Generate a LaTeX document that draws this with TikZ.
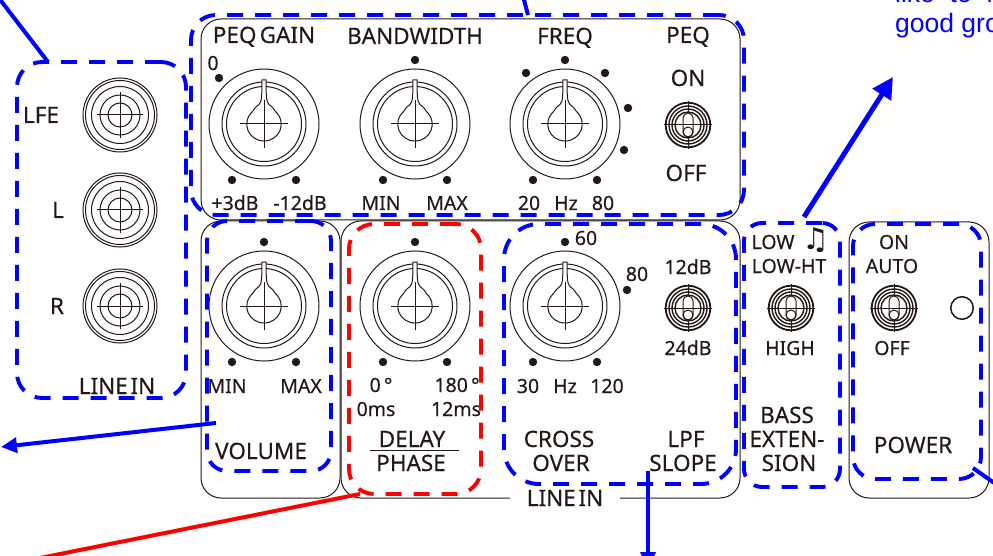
\documentclass[tikz,border=0pt]{standalone}
\usepackage{fontspec}
\setmainfont[FakeBold=0.3]{Noto Sans}
\newfontfamily\notefont{DejaVu Sans}
\newfontfamily\blufont{Liberation Sans}
\usepackage{xcolor}
\definecolor{pnlink}{HTML}{231815}
\definecolor{pnlblue}{RGB}{0,0,255}
\definecolor{pnlred}{RGB}{255,0,0}
\usetikzlibrary{arrows.meta,positioning,calc}

\begin{document}
\begin{tikzpicture}[
  x=1pt, y=-1pt,
  kline/.style={draw=pnlink, line width=1pt},
  panel/.style={rectangle, rounded corners=20pt, kline, inner sep=0pt, outer sep=0pt},
  dbox/.style={rectangle, line width=3.9pt, dash pattern=on 16pt off 12pt, inner sep=0pt, outer sep=0pt},
  bluebox/.style={dbox, draw=pnlblue},
  redbox/.style={dbox, draw=pnlred},
  biglbl/.style={font=\fontsize{22.5}{24}\selectfont, text=pnlink, inner sep=0pt, text height=16pt, text depth=0pt},
  midlbl/.style={font=\fontsize{19.5}{22}\selectfont, text=pnlink, inner sep=0pt, text height=14pt, text depth=0pt},
  kdot/.style={circle, fill=pnlink, minimum size=8.4pt, inner sep=0pt},
  barr/.style={-{Triangle[length=16pt,width=15pt]}, draw=pnlblue, line width=4pt},
  bline/.style={draw=pnlblue, line width=4pt},
  bluetxt/.style={font=\blufont\fontsize{26.5}{28}\selectfont, text=pnlblue, inner sep=0pt, anchor=base west},
  knob/.pic={
    \draw[kline] (0,0) circle (55pt);
    \draw[kline] (0,0) circle (42pt);
    \draw[kline] (0,0) circle (37.5pt);
    \draw[kline, fill=white] (-2,-44) .. controls (-2.2,-30) and (-2,-22) .. (-5,-19.5)
      .. controls (-7,-17.5) and (-9,-17) .. (-11,-13)
      .. controls (-24,-1) and (-15,17) .. (0,17)
      .. controls (15,17) and (24,-1) .. (11,-13)
      .. controls (9,-17) and (7,-17.5) .. (5,-19.5)
      .. controls (2,-22) and (2.2,-30) .. (2,-44) -- cycle;
    \draw[kline] (-24,0) -- (24,0);
    \draw[kline] (0,-24) -- (0,24);
  },
  jack/.pic={
    \draw[kline] (0,0) circle (37pt);
    \draw[kline] (0,0) circle (34.5pt);
    \draw[kline] (0,0) circle (28.5pt);
    \draw[kline] (0,0) circle (20pt);
    \draw[kline] (0,0) circle (12pt);
    \draw[kline] (-23,0) -- (23,0);
    \draw[kline] (0,-23) -- (0,23);
  },
  toggle/.pic={
    \draw[kline, line width=1.8pt] (0,0) circle (22.3pt);
    \draw[kline, line width=1.4pt] (0,0) circle (19pt);
    \draw[kline, line width=1.4pt] (0,0) circle (16pt);
    \draw[kline, line width=1.4pt] (0,0) circle (13pt);
    \draw[kline] (-24,0) -- (24,0);
    \draw[kline] (0,-24) -- (0,24);
    \draw[kline, fill=white, rounded corners=4.9pt] (-5,-12) rectangle (5,12);
    \draw[kline] (0,7) circle (5pt);
    \draw[kline] (-5,0) -- (5,0);
  }
]
\clip (0,0) rectangle (993,556);

% Panels
\node[panel, minimum width=539pt, minimum height=201pt] (toppanel) at (470.5,119.5) {};
\node[panel, minimum width=139pt, minimum height=277pt] (volpanel) at (270.5,359.5) {};
\node[panel, minimum width=399pt, minimum height=277pt] (midpanel) at (540.5,359.5) {};
\node[panel, minimum width=140pt, minimum height=276pt] (powpanel) at (919,360) {};
\node[biglbl, fill=white, minimum width=110pt] (midtitle) at (565,498) {LINE\hspace{.12em}IN\hspace{6pt}};

% Knobs, jacks, switches
\pic (kgain)  at (264,124) {knob};
\pic (kband)  at (415,124) {knob};
\pic (kfreq)  at (565,124) {knob};
\pic (kvol)   at (264,306) {knob};
\pic (kdelay) at (415,306) {knob};
\pic (kcross) at (565,306) {knob};
\pic (jlfe) at (120,115) {jack};
\pic (jl)   at (120,210) {jack};
\pic (jr)   at (120,306) {jack};
\pic (tpeq)   at (688,125) {toggle};
\pic (tslope) at (688,308) {toggle};
\pic (tbass)  at (791,308) {toggle};
\pic (tpower) at (894,308) {toggle};
\node[circle, kline, line width=1.5pt, minimum size=22.5pt, inner sep=0pt] (led) at (962,308) {};

% Knob dots
\node[kdot] (dg0) at (219,78) {};
\node[kdot] (dg1) at (232,180) {};
\node[kdot] (dg2) at (296,180) {};
\node[kdot] (db0) at (415,60) {};
\node[kdot] (db1) at (383,180) {};
\node[kdot] (db2) at (447,180) {};
\node[kdot] (df0) at (565,60) {};
\node[kdot] (df1) at (533,180) {};
\node[kdot] (df2) at (597,180) {};
\node[kdot] (df3) at (526,73) {};
\node[kdot] (df4) at (605,73) {};
\node[kdot] (df5) at (628,108) {};
\node[kdot] (df6) at (624,150) {};
\node[kdot] (dv0) at (264,242) {};
\node[kdot] (dv1) at (232,362) {};
\node[kdot] (dv2) at (296,362) {};
\node[kdot] (dd0) at (415,242) {};
\node[kdot] (dd1) at (383,362) {};
\node[kdot] (dd2) at (447,362) {};
\node[kdot] (dc0) at (565,242) {};
\node[kdot] (dc1) at (533,362) {};
\node[kdot] (dc2) at (597,362) {};
\node[kdot] (dc3) at (627,290) {};

% Top row labels
\node[biglbl] (lgain) at (264,35) {PEQ\hspace{.14em}GAIN};
\node[biglbl] (lband) at (415,36) {BANDWIDTH};
\node[biglbl] (lfreq) at (565,36) {FREQ};
\node[biglbl] (lpeq)  at (688,35) {PEQ};
\node[biglbl] (lon)   at (688,78) {ON};
\node[biglbl] (loff)  at (686,173) {OFF};
\node[midlbl] (lzero) at (213,63) {0};
\node[midlbl] (lp3)   at (235,203) {+3dB};
\node[midlbl] (lm12)  at (300,203) {-12dB};
\node[midlbl] (lmin)  at (381,203) {MIN};
\node[midlbl] (lmax)  at (447,203) {MAX};
\node[midlbl] (l20)   at (529,203) {20};
\node[midlbl] (lhz)   at (566,203) {Hz};
\node[midlbl] (l80)   at (603,203) {80};

% Line in labels
\node[biglbl] (llfe) at (41,115) {LFE};
\node[biglbl] (ll)   at (58,210) {L};
\node[biglbl] (lr)   at (57,306) {R};
\node[biglbl] (lline) at (117,386) {LINE\hspace{.12em}IN};

% Volume and delay labels
\node[midlbl] (lvmin) at (227,386) {MIN};
\node[midlbl] (lvmax) at (301,386) {MAX};
\node[biglbl] (lvol)  at (261,451) {VOLUME};
\node[midlbl] (ld0)   at (381,385) {0\,°};
\node[midlbl] (ld180) at (457,385) {180\,°};
\node[midlbl] (ld0ms) at (376,409) {0ms};
\node[midlbl] (ld12)  at (456,409) {12ms};
\node[biglbl] (ldel)  at (412,439) {DELAY};
\node[biglbl] (lpha)  at (411,463) {PHASE};
\draw[kline] (370,450) -- (459,450);

% Crossover and slope labels
\node[midlbl] (lc60)  at (586,238) {60};
\node[midlbl] (lc80)  at (637,274) {80};
\node[midlbl] (lc30)  at (528,386) {30};
\node[midlbl] (lchz)  at (565,386) {Hz};
\node[midlbl] (lc120) at (607,386) {120};
\node[midlbl] (ls12)  at (688,267) {12dB};
\node[midlbl] (ls24)  at (688,348) {24dB};
\node[biglbl] (lcro)  at (559,439) {CROSS};
\node[biglbl] (lcov)  at (561,463) {OVER};
\node[biglbl] (llpf)  at (686,439) {LPF};
\node[biglbl] (lslo)  at (683,463) {SLOPE};

% Bass and power labels
\node[midlbl] (llow)  at (773,242) {LOW};
\node[font=\notefont\fontsize{30}{30}\selectfont, text=pnlink, inner sep=0pt] (lnote) at (816,240) {♫};
\node[midlbl] (llht)  at (789,266) {LOW-HT};
\node[midlbl] (lhigh) at (790,348) {HIGH};
\node[biglbl] (lbass) at (787,415) {BASS};
\node[biglbl] (lext)  at (787,439) {EXTEN-};
\node[biglbl] (lsion) at (789,463) {SION};
\node[midlbl] (lpon)  at (894,242) {ON};
\node[midlbl] (lpau)  at (892,266) {AUTO};
\node[midlbl] (lpof)  at (892,348) {OFF};
\node[biglbl] (lpow)  at (913,445) {POWER};

% Dashed groups
\node[bluebox, rounded corners=25pt, minimum width=169pt, minimum height=336pt] (linebox) at (101.5,230) {};
\node[bluebox, rounded corners=25pt, minimum width=553pt, minimum height=200pt] (peqbox) at (467.5,115) {};
\node[bluebox, rounded corners=20pt, minimum width=124pt, minimum height=250pt] (volbox) at (269,346) {};
\node[redbox, rounded corners=25pt, minimum width=132pt, minimum height=270pt] (delaybox) at (415,359) {};
\node[bluebox, rounded corners=35pt, minimum width=232pt, minimum height=260pt] (crossbox) at (620,354) {};
\node[bluebox, rounded corners=18pt, minimum width=96pt, minimum height=264pt] (bassbox) at (792,355) {};
\node[bluebox, rounded corners=22pt, minimum width=128pt, minimum height=255pt] (powerbox) at (917,351.5) {};

% Outgoing arrows
\coordinate (upleft)  at (-2,-3);
\coordinate (uptop)   at (523,-4);
\coordinate (bassend) at (893,77);
\coordinate (volend)  at (1,447);
\coordinate (delend)  at (40,558);
\coordinate (xend)    at (648,568);
\coordinate (powend)  at (1000,487);
\draw[bline] ([xshift=31pt]linebox.north west) -- (upleft);
\draw[bline] ([xshift=337pt]peqbox.north west) -- (uptop);
\draw[barr, line width=5pt, -{Triangle[length=21pt,width=21pt]}] ([xshift=12pt,yshift=6pt]bassbox.north) -- (bassend);
\draw[barr] ([xshift=9pt,yshift=-77pt]volbox.west) -- (volend);
\draw[bline, draw=pnlred] ([xshift=11pt]delaybox.south west) -- (delend);
\draw[barr] ([xshift=28pt,yshift=13pt]crossbox.south) -- (xend);
\draw[bline] ([xshift=-8pt,yshift=11pt]powerbox.south east) -- (powend);

% Cut off note text
\node[bluetxt] (ntop) at (895,3) {like\ \ to\ \ m};
\node[bluetxt] (nbot) at (895,33) {good gro};
\end{tikzpicture}
\end{document}
